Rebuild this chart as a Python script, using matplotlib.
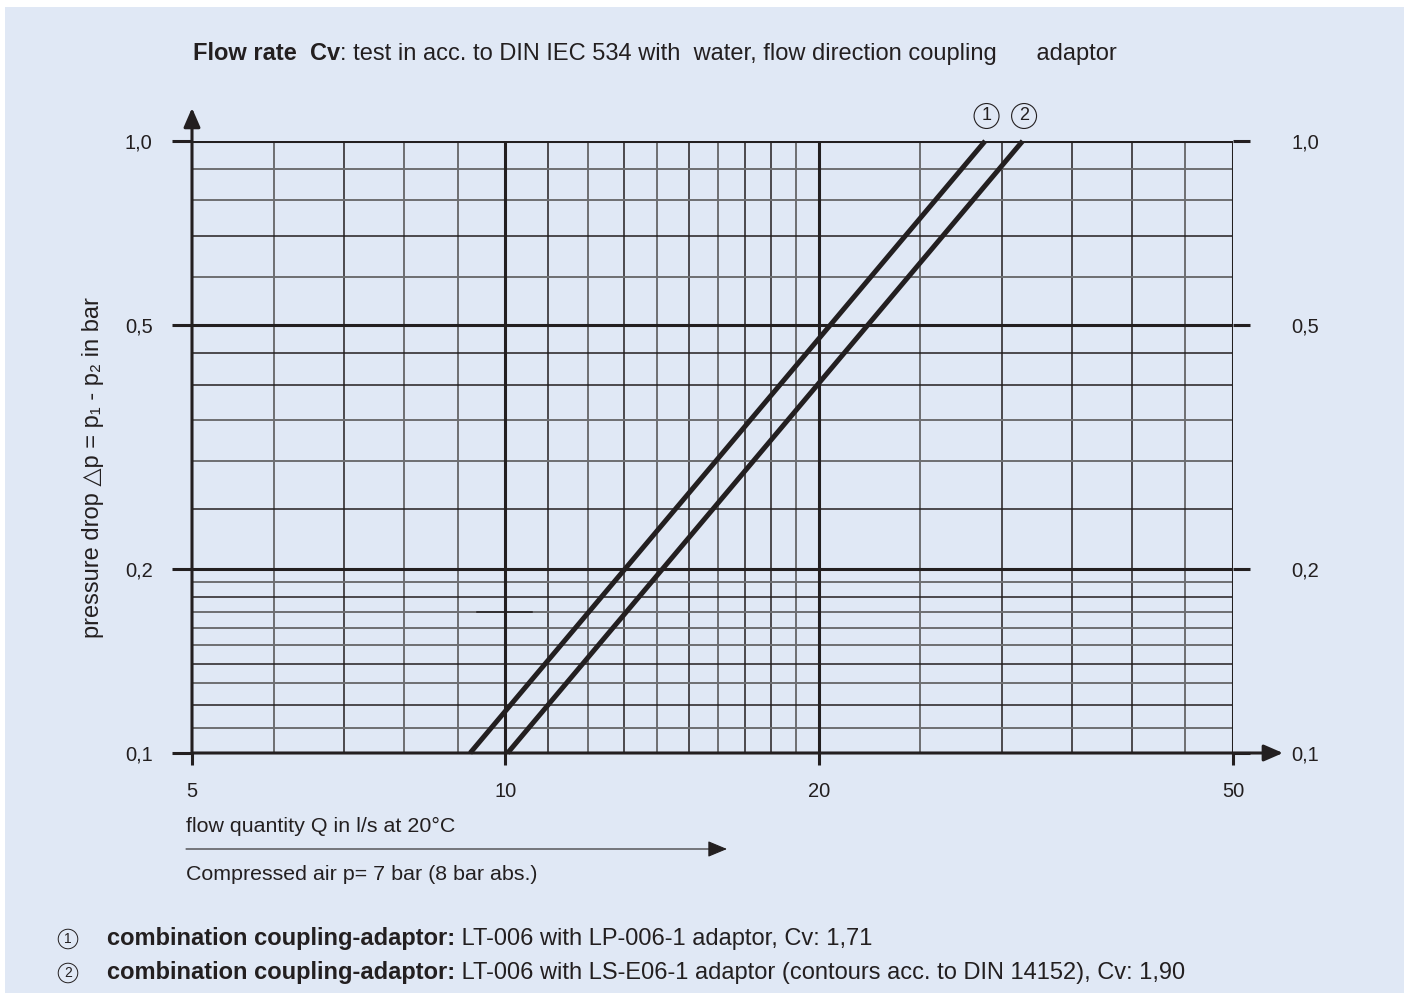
import matplotlib.pyplot as plt
from matplotlib.patches import Rectangle
from matplotlib.ticker import FixedLocator, FixedFormatter, NullLocator

plt.rcParams['font.family'] = ['Liberation Sans', 'DejaVu Sans']
plt.rcParams['font.size'] = 17

INK = '#231f20'
GREY = '#6d6e71'
BG = '#e0e8f5'

# axis ranges and labels
q_ticks = [5, 10, 20, 50]
q_labels = ['5', '10', '20', '50']
dp_ticks = [0.1, 0.2, 0.5, 1.0]
dp_labels = ['0,1', '0,2', '0,5', '1,0']

# grid lines (minor), split by how dark they are printed
q_grid_dark = [7, 11, 13, 15, 17, 18, 30, 35, 40]
q_grid_grey = [6, 8, 9, 12, 14, 16, 19, 25, 45]
dp_grid_dark = [0.7, 0.45, 0.4, 0.25, 0.18, 0.14, 0.12]
dp_grid_grey = [0.9, 0.8, 0.6, 0.35, 0.3, 0.19, 0.17, 0.16, 0.15, 0.13, 0.11]

# curves: Q (l/s) at dp = 0.1 and 1.0 bar
dp_curve = [0.1, 1.0]
q_curve1 = [9.25, 28.9]
q_curve2 = [10.05, 31.4]

fig = plt.figure(figsize=(14.12, 9.93), dpi=100)
fig.patch.set_facecolor('white')
fig.patches.append(Rectangle((5 / 1412, 0), 1399 / 1412, 986 / 993,
                             transform=fig.transFigure, fc=BG, ec='none', zorder=-10))

ax = fig.add_axes([192 / 1412, 240 / 993, 1041 / 1412, 612 / 993])
ax.set_xscale('log')
ax.set_yscale('log')
ax.set_xlim(5, 50)
ax.set_ylim(0.1, 1.0)
ax.patch.set_visible(False)
for s in ax.spines.values():
    s.set_visible(False)

for v in q_grid_grey:
    ax.axvline(v, color=GREY, lw=1.4, zorder=1)
for v in q_grid_dark:
    ax.axvline(v, color=INK, lw=1.1, zorder=1)
for v in dp_grid_grey:
    ax.axhline(v, color=GREY, lw=1.4, zorder=1)
for v in dp_grid_dark:
    ax.axhline(v, color=INK, lw=1.1, zorder=1)
ax.plot([9.4, 10.6], [0.17, 0.17], color=INK, lw=1.1, zorder=1)

for v in [10, 20, 50]:
    ax.axvline(v, color=INK, lw=2.2, zorder=2)
for v in [0.2, 0.5, 1.0]:
    ax.axhline(v, color=INK, lw=2.2, zorder=2)

# ticks and labels
ax.xaxis.set_major_locator(FixedLocator(q_ticks))
ax.xaxis.set_major_formatter(FixedFormatter(q_labels))
ax.xaxis.set_minor_locator(NullLocator())
ax.yaxis.set_major_locator(FixedLocator(dp_ticks))
ax.yaxis.set_major_formatter(FixedFormatter(dp_labels))
ax.yaxis.set_minor_locator(NullLocator())
ax.tick_params(axis='x', length=8.6, width=2.2, color=INK, pad=12, labelcolor=INK, labelsize=14.5)
ax.tick_params(axis='y', length=14.4, width=2.2, color=INK, pad=14, labelcolor=INK, labelsize=14.5)

ax2 = ax.twinx()
ax2.set_yscale('log')
ax2.set_ylim(0.1, 1.0)
for s in ax2.spines.values():
    s.set_visible(False)
ax2.yaxis.set_major_locator(FixedLocator(dp_ticks))
ax2.yaxis.set_major_formatter(FixedFormatter(dp_labels))
ax2.yaxis.set_minor_locator(NullLocator())
ax2.tick_params(axis='y', length=12.2, width=2.2, color=INK, pad=30, labelcolor=INK, labelsize=14.5)

# axes with arrows
arrow = dict(arrowstyle='-|>,head_length=1.15,head_width=0.5', lw=2.2, color=INK,
             shrinkA=0, shrinkB=0)
ax.annotate('', xy=(0, 1.054), xytext=(0, 0), xycoords='axes fraction', fontsize=10,
            arrowprops=arrow, annotation_clip=False)
ax.annotate('', xy=(1.048, 0), xytext=(0, 0), xycoords='axes fraction', fontsize=10,
            arrowprops=arrow, annotation_clip=False)

# curves
ax.plot(q_curve1, dp_curve, color=INK, lw=3.6, solid_capstyle='butt', zorder=5, clip_on=False)
ax.plot(q_curve2, dp_curve, color=INK, lw=3.6, solid_capstyle='butt', zorder=5, clip_on=False)
for q, lab in [(q_curve1[-1], '1'), (q_curve2[-1], '2')]:
    ax.annotate(lab, xy=(q, 1.0), xytext=(1, 18), textcoords='offset points',
                ha='center', va='center', fontsize=13, color=INK, annotation_clip=False,
                bbox=dict(boxstyle='circle,pad=0.22', fc='none', ec=INK, lw=0.8))

# title
t = fig.text(193 / 1412, 1 - 60 / 993, 'Flow rate  Cv', fontweight='bold',
             ha='left', va='baseline', color=INK)
ax.annotate(': test in acc. to DIN IEC 534 with  water, flow direction coupling      adaptor',
            xy=(1, 0), xycoords=t, ha='left', va='bottom', color=INK)

# y label
fig.text(93 / 1412, 1 - 468 / 993, 'pressure drop \u25b3p = p\u2081 - p\u2082 in bar',
         rotation=90, ha='center', va='center', color=INK, fontsize=17)

# x label and flow arrow
fig.text(186 / 1412, 1 - 826 / 993, 'flow quantity Q in l/s at 20\u00b0C',
         ha='left', va='center', color=INK, fontsize=15.4)
ax.annotate('', xy=(727 / 1412, 1 - 849 / 993), xytext=(186 / 1412, 1 - 849 / 993),
            xycoords='figure fraction', fontsize=10,
            arrowprops=dict(arrowstyle='-|>,head_length=1.2,head_width=0.5', lw=0.8,
                            color=INK, shrinkA=0, shrinkB=0))
fig.text(186 / 1412, 1 - 875 / 993, 'Compressed air p= 7 bar (8 bar abs.)',
         ha='left', va='center', color=INK, fontsize=15.4)

# notes
notes = [('1', 'LT-006 with LP-006-1 adaptor, Cv: 1,71'),
         ('2', 'LT-006 with LS-E06-1 adaptor (contours acc. to DIN 14152), Cv: 1,90')]
for i, (num, txt) in enumerate(notes):
    yc = 1 - (939 + 34 * i) / 993
    fig.text(68 / 1412, yc, num, ha='center', va='center', fontsize=10, color=INK,
             bbox=dict(boxstyle='circle,pad=0.2', fc='none', ec=INK, lw=0.7))
    b = fig.text(107 / 1412, yc - 6 / 993, 'combination coupling-adaptor:',
                 fontweight='bold', ha='left', va='baseline', color=INK)
    ax.annotate(' ' + txt, xy=(1, 0), xycoords=b, ha='left', va='bottom', color=INK)

fig.savefig('out.png', dpi=100, facecolor=fig.get_facecolor())
